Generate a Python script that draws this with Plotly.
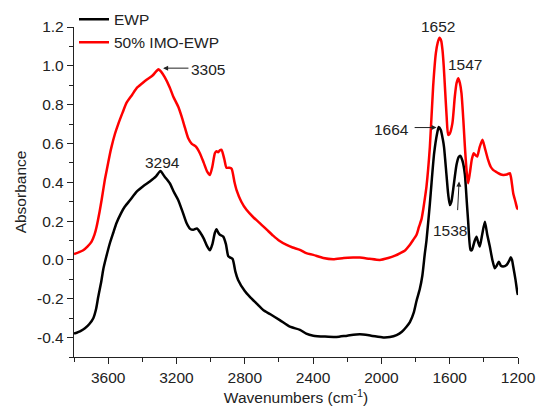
import plotly.graph_objects as go

# ---------------- data ----------------
ewp_wn = [3800, 3760, 3736, 3710, 3687, 3670, 3658, 3640, 3629, 3610, 3590, 3570, 3551, 3525, 3502,
          3470, 3433, 3395, 3356, 3320, 3294, 3270, 3239, 3215, 3190, 3165, 3141, 3120, 3102, 3080,
          3060, 3040, 3020, 3004, 2990, 2975, 2965, 2955, 2946, 2926, 2910, 2897, 2885, 2871, 2855,
          2839, 2800, 2770, 2730, 2692, 2650, 2595, 2536, 2477, 2440, 2399, 2330, 2263, 2200, 2126,
          2060, 1990, 1950, 1911, 1880, 1853, 1833, 1810, 1794, 1775, 1760, 1746, 1736, 1716, 1706,
          1691, 1674, 1664, 1652, 1640, 1633, 1619, 1609, 1599, 1590, 1580, 1560, 1547, 1537, 1525,
          1511, 1500, 1492, 1478, 1470, 1463, 1453, 1443, 1433, 1424, 1410, 1394, 1380, 1365, 1350,
          1336, 1325, 1312, 1300, 1287, 1267, 1252, 1242, 1235, 1228, 1215, 1203, 1200]
ewp_abs = [-0.38, -0.365, -0.352, -0.33, -0.30, -0.25, -0.19, -0.11, -0.05, 0.02, 0.086, 0.14, 0.19, 0.24, 0.275,
           0.31, 0.352, 0.38, 0.404, 0.43, 0.458, 0.43, 0.395, 0.35, 0.309, 0.25, 0.19, 0.16, 0.155, 0.162,
           0.14, 0.11, 0.07, 0.05, 0.08, 0.14, 0.158, 0.14, 0.13, 0.12, 0.08, 0.02, 0.012, 0.005, -0.06,
           -0.103, -0.16, -0.19, -0.225, -0.258, -0.28, -0.31, -0.344, -0.36, -0.38, -0.39, -0.395, -0.397, -0.39, -0.383,
           -0.39, -0.399, -0.397, -0.387, -0.37, -0.344, -0.32, -0.27, -0.21, -0.15, -0.08, 0.03, 0.1, 0.29, 0.40,
           0.55, 0.65, 0.685, 0.67, 0.62, 0.58, 0.44, 0.34, 0.283, 0.30, 0.36, 0.49, 0.53, 0.536, 0.51,
           0.44, 0.3, 0.2, 0.052, 0.05, 0.069, 0.10, 0.12, 0.09, 0.069, 0.13, 0.197, 0.13, 0.069, 0.0,
           -0.043, -0.03, -0.009, -0.03, -0.034, -0.026, -0.005, 0.014, 0.0, -0.034, -0.1, -0.172, -0.18]

imo_wn = [3800, 3770, 3746, 3720, 3697, 3680, 3668, 3650, 3638, 3620, 3609, 3590, 3580, 3560, 3541,
          3515, 3492, 3460, 3433, 3400, 3375, 3340, 3320, 3305, 3290, 3268, 3240, 3219, 3190, 3170,
          3150, 3131, 3110, 3086, 3063, 3040, 3020, 3004, 2990, 2975, 2965, 2956, 2946, 2936, 2920,
          2907, 2890, 2877, 2860, 2848, 2820, 2790, 2750, 2712, 2670, 2634, 2600, 2555, 2520, 2477,
          2440, 2399, 2340, 2282, 2220, 2165, 2126, 2070, 2009, 1960, 1920, 1892, 1860, 1840, 1814,
          1794, 1780, 1765, 1755, 1745, 1736, 1716, 1697, 1681, 1670, 1660, 1650, 1642, 1635, 1628,
          1618, 1609, 1600, 1584, 1570, 1560, 1550, 1540, 1531, 1520, 1511, 1500, 1492, 1482, 1470,
          1459, 1449, 1439, 1425, 1408, 1395, 1375, 1360, 1346, 1330, 1316, 1300, 1287, 1265, 1248,
          1240, 1228, 1215, 1205, 1200]
imo_abs = [0.03, 0.04, 0.05, 0.07, 0.094, 0.13, 0.17, 0.25, 0.31, 0.41, 0.46, 0.545, 0.584, 0.65, 0.70,
           0.76, 0.81, 0.85, 0.885, 0.91, 0.928, 0.95, 0.97, 0.982, 0.97, 0.94, 0.89, 0.842, 0.79, 0.739,
           0.68, 0.627, 0.598, 0.584, 0.55, 0.50, 0.455, 0.438, 0.48, 0.55, 0.56, 0.555, 0.565, 0.567, 0.52,
           0.475, 0.475, 0.47, 0.40, 0.36, 0.30, 0.258, 0.22, 0.19, 0.155, 0.125, 0.10, 0.077, 0.064, 0.052,
           0.035, 0.026, 0.01, 0.004, 0.01, 0.012, 0.012, 0.006, 0.0, 0.01, 0.022, 0.034, 0.05, 0.07, 0.103,
           0.13, 0.17, 0.21, 0.26, 0.32, 0.378, 0.584, 0.893, 1.065, 1.12, 1.145, 1.13, 1.08, 1.0, 0.893,
           0.74, 0.644, 0.65, 0.705, 0.842, 0.91, 0.936, 0.91, 0.859, 0.72, 0.584, 0.45, 0.395, 0.447, 0.52,
           0.55, 0.54, 0.533, 0.58, 0.619, 0.58, 0.515, 0.48, 0.464, 0.455, 0.447, 0.44, 0.438, 0.44, 0.447,
           0.42, 0.344, 0.30, 0.266, 0.26]

series_names = ["EWP", "50% IMO-EWP"]
series_colors = ["#000000", "#ff0000"]

x_tick_vals = [3600, 3200, 2800, 2400, 2000, 1600, 1200]
x_tick_text = ["3600", "3200", "2800", "2400", "2000", "1600", "1200"]
y_tick_vals = [-0.4, -0.2, 0.0, 0.2, 0.4, 0.6, 0.8, 1.0, 1.2]
y_tick_text = ["-0.4", "-0.2", "0.0", "0.2", "0.4", "0.6", "0.8", "1.0", "1.2"]

# peak labels: (text, x, y in axis-relative units, where 0 = bottom and 1 = top of plot)
peak_labels = [("1652", 1671, 1.003), ("1547", 1511, 0.887), ("3294", 3284, 0.588)]
# arrowed labels: (text, text_x, text_y, tail_x, tail_y, head_x, head_y)
arrow_labels = [("3305", 3014, 0.979, 3121, 0.988, 3278, 0.988),
                ("1664", 1940, 0.67, 1814, 0.682, 1677, 0.682),
                ("1538", 1599, 0.151, 1554, 0.249, 1545, 0.404)]

FONT = "Liberation Sans, Arial, sans-serif"

fig = go.Figure()
for name, color, xs, ys in [(series_names[0], series_colors[0], ewp_wn, ewp_abs),
                            (series_names[1], series_colors[1], imo_wn, imo_abs)]:
    fig.add_trace(go.Scatter(x=xs, y=ys, mode="lines", name=name,
                             line=dict(color=color, width=2.5, shape="spline", smoothing=0.6)))

annotations = []
for t, x, y in peak_labels:
    annotations.append(dict(x=x, y=y, xref="x", yref="paper", text=t, showarrow=False,
                            xanchor="center", yanchor="middle",
                            font=dict(size=15.5, color="#222", family=FONT)))
for t, tx, ty, x0, y0, x1, y1 in arrow_labels:
    annotations.append(dict(x=tx, y=ty, xref="x", yref="y", text=t, showarrow=False,
                            xanchor="center", yanchor="middle",
                            font=dict(size=15.5, color="#222", family=FONT)))
    annotations.append(dict(x=x1, y=y1, ax=x0, ay=y0, xref="x", yref="y", axref="x", ayref="y",
                            text="", showarrow=True, arrowhead=2, arrowsize=1, arrowwidth=1,
                            arrowcolor="#222"))

fig.update_layout(
    width=537, height=408,
    margin=dict(l=74, r=19, t=27, b=51, autoexpand=False),
    paper_bgcolor="white", plot_bgcolor="white",
    font=dict(family=FONT, size=15.5, color="#222"),
    showlegend=True,
    legend=dict(x=0.0, y=1.074, xanchor="left", yanchor="top", bgcolor="rgba(0,0,0,0)",
                font=dict(size=15.5, family=FONT, color="#222"), tracegroupgap=0,
                itemwidth=30),
    annotations=annotations,
)
fig.update_xaxes(range=[3800, 1200], showline=True, linecolor="#222", linewidth=1.3,
                 showgrid=False, zeroline=False, ticks="outside", ticklen=6, tickwidth=1.3,
                 tickcolor="#222", tickvals=x_tick_vals, ticktext=x_tick_text, automargin=False,
                 minor=dict(ticks="outside", ticklen=4, tickwidth=1.3, tickcolor="#222",
                            tick0=1200, dtick=200, showgrid=False),
                 title=dict(text="Wavenumbers (cm<sup>-1</sup>)", standoff=7,
                            font=dict(size=15.5, family=FONT, color="#222")),
                 mirror=False)
fig.update_yaxes(range=[-0.5, 1.2], showline=True, linecolor="#222", linewidth=1.3,
                 showgrid=False, zeroline=False, ticks="outside", ticklen=6, tickwidth=1.3,
                 tickcolor="#222", tickvals=y_tick_vals, ticktext=y_tick_text, automargin=False,
                 minor=dict(ticks="outside", ticklen=4, tickwidth=1.3, tickcolor="#222",
                            tick0=-0.5, dtick=0.1, showgrid=False),
                 title=dict(text="Absorbance", standoff=6,
                            font=dict(size=15.5, family=FONT, color="#222")),
                 mirror=False)

fig.write_html("out.html")
